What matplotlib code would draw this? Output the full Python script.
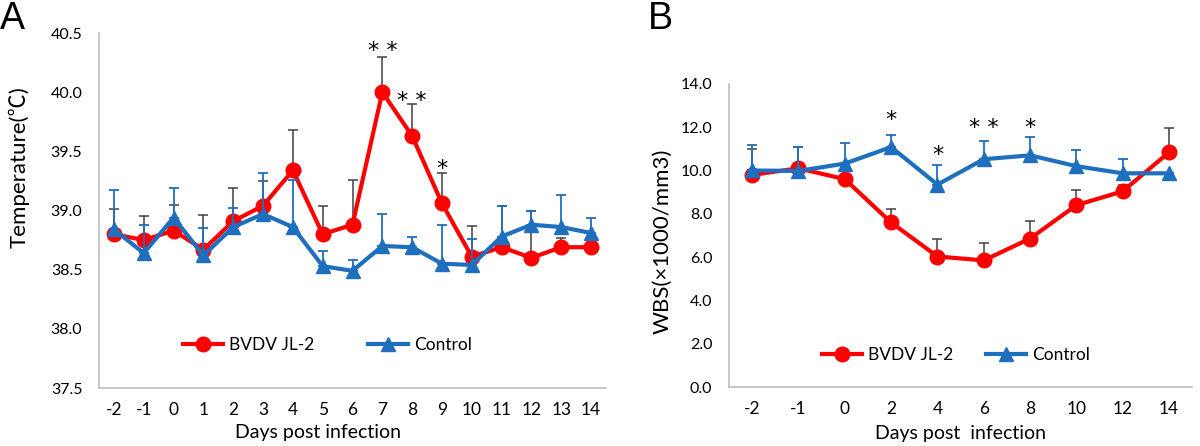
import matplotlib
matplotlib.use("Agg")
import matplotlib.pyplot as plt
from matplotlib.lines import Line2D

plt.rcParams['font.family'] = ['Lato', 'Noto Sans CJK SC', 'DejaVu Sans']

RED = '#FF0000'
BLUE = '#1F6FBF'
ERR_GRAY = '#404040'

# Panel A: temperature
days_a = ['-2', '-1', '0', '1', '2', '3', '4', '5', '6', '7', '8', '9', '10', '11', '12', '13', '14']
temp_bvdv = [38.80, 38.75, 38.83, 38.67, 38.91, 39.04, 39.34, 38.80, 38.88, 40.00, 39.63, 39.06,
             38.61, 38.69, 38.60, 38.69, 38.69]
temp_bvdv_err = [0.21, 0.20, 0.22, 0.29, 0.28, 0.21, 0.34, 0.24, 0.38, 0.30, 0.27, 0.26,
                 0.26, 0.35, 0.40, 0.08, 0.08]
temp_ctrl = [38.84, 38.64, 38.94, 38.62, 38.86, 38.97, 38.86, 38.53, 38.49, 38.70, 38.69, 38.55,
             38.54, 38.78, 38.88, 38.86, 38.81]
temp_ctrl_err = [0.33, 0.24, 0.25, 0.23, 0.16, 0.35, 0.40, 0.13, 0.09, 0.27, 0.09, 0.33,
                 0.22, 0.26, 0.12, 0.27, 0.13]
temp_stars = {'7': ('* *', 40.38), '8': ('* *', 39.96), '9': ('*', 39.38)}

# Panel B: white blood cells
days_b = ['-2', '-1', '0', '2', '4', '6', '8', '10', '12', '14']
wbc_bvdv = [9.80, 10.10, 9.60, 7.60, 6.03, 5.85, 6.86, 8.40, 9.04, 10.84]
wbc_bvdv_err = [1.20, 1.00, 0.60, 0.60, 0.80, 0.80, 0.80, 0.70, 0.30, 1.10]
wbc_ctrl = [10.00, 9.98, 10.32, 11.08, 9.35, 10.52, 10.70, 10.20, 9.87, 9.87]
wbc_ctrl_err = [1.20, 1.10, 0.95, 0.55, 0.90, 0.85, 0.85, 0.75, 0.65, 0.0]
wbc_stars = {'2': ('*', 12.5), '4': ('*', 10.9), '6': ('* *', 12.15), '8': ('*', 12.15)}


def draw_panel(ax, days, red, red_err, blue, blue_err, stars):
    x = list(range(len(days)))
    ax.errorbar(x, red, yerr=[[0] * len(red), red_err], fmt='none', ecolor=ERR_GRAY,
                elinewidth=1.1, capsize=3.6, capthick=1.1, zorder=2)
    ax.plot(x, red, color=RED, lw=3, marker='o', ms=10.5, zorder=3)
    ax.errorbar(x, blue, yerr=[[0] * len(blue), blue_err], fmt='none', ecolor=BLUE,
                elinewidth=1.3, capsize=3.6, capthick=1.3, zorder=4)
    ax.plot(x, blue, color=BLUE, lw=3, marker='^', ms=10.5, zorder=5)
    for d, (s, y) in stars.items():
        # star glyph sits above the baseline, so shift down to centre it on y
        ax.annotate(s, (days.index(d), y), xytext=(0, -7), textcoords='offset points',
                    ha='center', va='baseline', fontsize=16, family='DejaVu Sans')
    ax.set_xticks(x)
    ax.set_xticklabels(days, fontsize=12.5)
    ax.set_xlim(-0.5, len(days) - 0.5)
    for side in ['top', 'right']:
        ax.spines[side].set_visible(False)
    for side in ['left', 'bottom']:
        ax.spines[side].set_color('#BFBFBF')
        ax.spines[side].set_linewidth(1.2)
    ax.tick_params(length=0)
    ax.tick_params(axis='x', pad=10)
    ax.tick_params(axis='y', labelsize=11.5, pad=12)


def add_legend(ax, anchor, colsp):
    handles = [Line2D([], [], color=RED, lw=3, marker='o', ms=10.5),
               Line2D([], [], color=BLUE, lw=3, marker='^', ms=10.5)]
    ax.legend(handles, ['BVDV JL-2', 'Control'], loc='center left', bbox_to_anchor=anchor,
              ncol=2, frameon=False, fontsize=12.5, handlelength=2.3, handletextpad=0.35,
              columnspacing=colsp, borderpad=0, borderaxespad=0)


def place_labels(ax, xlab, ylab, xpos, ypos):
    ax.set_xlabel(xlab, fontsize=14)
    ax.set_ylabel(ylab, fontsize=16)
    ax.xaxis.set_label_coords(*xpos)
    ax.yaxis.set_label_coords(*ypos)
    ax.xaxis.label.set_va('center')
    ax.yaxis.label.set_va('center')


fig = plt.figure(figsize=(12, 4.46), dpi=100)

ax_a = fig.add_axes([0.0825, 0.130, 0.4225, 0.796])
draw_panel(ax_a, days_a, temp_bvdv, temp_bvdv_err, temp_ctrl, temp_ctrl_err, temp_stars)
ax_a.set_ylim(37.5, 40.5)
ax_a.set_yticks([37.5, 38.0, 38.5, 39.0, 39.5, 40.0, 40.5])
ax_a.set_yticklabels(['%.1f' % v for v in ax_a.get_yticks()])
place_labels(ax_a, 'Days post infection', 'Temperature(\u2103)', (0.432, -0.124), (-0.158, 0.623))
add_legend(ax_a, (0.166, 0.121), 3.1)

ax_b = fig.add_axes([0.6075, 0.132, 0.386, 0.680])
draw_panel(ax_b, days_b, wbc_bvdv, wbc_bvdv_err, wbc_ctrl, wbc_ctrl_err, wbc_stars)
ax_b.set_ylim(0, 14)
ax_b.set_yticks(range(0, 15, 2))
ax_b.set_yticklabels(['%.1f' % v for v in range(0, 15, 2)])
place_labels(ax_b, 'Days post  infection', 'WBS(\u00d71000/mm3)', (0.5, -0.152), (-0.143, 0.48))
add_legend(ax_b, (0.20, 0.106), 1.9)

fig.text(0.0, 0.998, 'A', fontsize=27, family='Liberation Sans', va='top', ha='left')
fig.text(0.54, 0.998, 'B', fontsize=27, family='Liberation Sans', va='top', ha='left')

fig.savefig('out.png', dpi=100)
